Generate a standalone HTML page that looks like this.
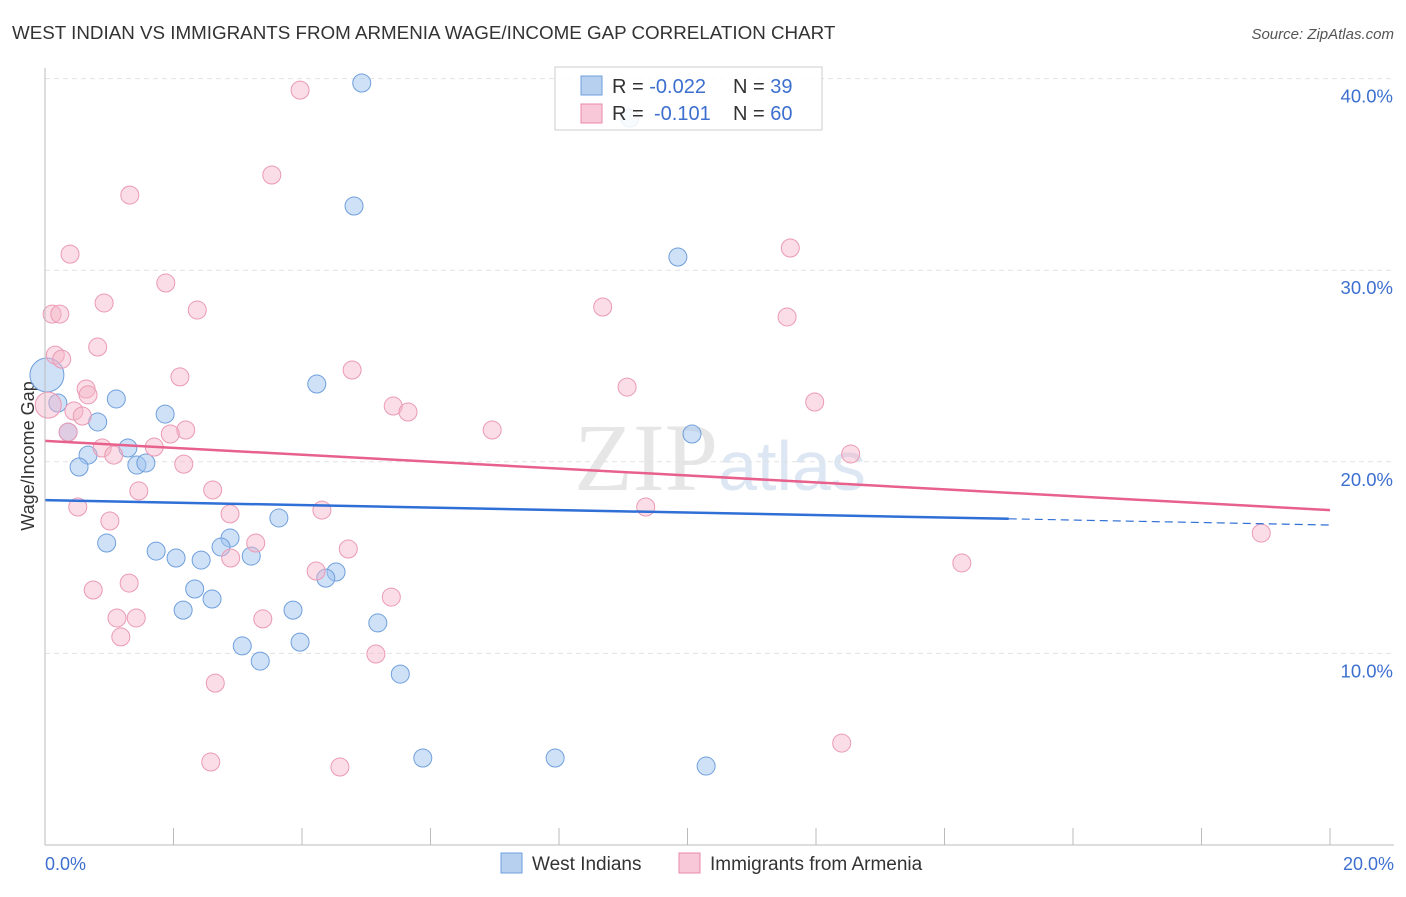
<!DOCTYPE html>
<html><head><meta charset="utf-8"><style>
body{margin:0;background:#fff;font-family:"Liberation Sans",sans-serif;}
</style></head><body>
<svg id="chart" width="1406" height="892" xmlns="http://www.w3.org/2000/svg">
<text x="12" y="39" font-size="18.8" fill="#333">WEST INDIAN VS IMMIGRANTS FROM ARMENIA WAGE/INCOME GAP CORRELATION CHART</text>
<text x="1394" y="39" font-size="15" fill="#555" font-style="italic" text-anchor="end">Source: ZipAtlas.com</text>
<text x="720" y="490" font-size="96" fill="#e6e6e6" text-anchor="middle" font-family="Liberation Serif,serif">ZIP<tspan fill="#dde6f3" font-family="Liberation Sans,sans-serif" font-size="70">atlas</tspan></text>
<text transform="translate(34,456) rotate(-90)" font-size="18" fill="#333" text-anchor="middle">Wage/Income Gap</text>
<g id="grid"></g><g id="pts"></g><g id="lines"></g>
<line x1="45" y1="68" x2="45" y2="845" stroke="#bbb"/>
<line x1="45" y1="845" x2="1394" y2="845" stroke="#bbb"/>
<text x="45" y="870" font-size="18" fill="#3d6fcf">0.0%</text>
<text x="1394" y="870" font-size="18" fill="#3d6fcf" text-anchor="end">20.0%</text>
<g>
<rect x="555" y="67" width="267" height="63" fill="#fff" fill-opacity="0.85" stroke="#ccc"/>
<rect x="581" y="76" width="21" height="19" fill="#b7d0f0" stroke="#6f9fdc"/>
<rect x="581" y="104" width="21" height="19" fill="#f8c8d8" stroke="#e88aa8"/>
<text x="612" y="93" font-size="20" fill="#333">R = <tspan fill="#3d6fcf">-0.022</tspan><tspan x="733">N = </tspan><tspan fill="#3d6fcf">39</tspan></text>
<text x="612" y="120" font-size="20" fill="#333">R = <tspan x="654" fill="#3d6fcf">-0.101</tspan><tspan x="733">N = </tspan><tspan fill="#3d6fcf">60</tspan></text>
</g>
<g>
<rect x="501" y="853" width="21" height="20" fill="#b7d0f0" stroke="#6f9fdc"/>
<text x="532" y="870" font-size="19" fill="#333">West Indians</text>
<rect x="679" y="853" width="21" height="20" fill="#f8c8d8" stroke="#e88aa8"/>
<text x="710" y="870" font-size="19" fill="#333">Immigrants from Armenia</text>
</g>
</svg>
<script>
const yTicks=[10,20,30,40];
const xTicks=[0,2,4,6,8,10,12,14,16,18,20];
const blueX=[4.93,4.81,9.85,9.10,4.23,0.03,0.20,1.11,1.87,0.82,0.36,1.29,0.67,0.53,1.43,1.57,10.07,3.64,0.96,2.88,2.74,1.73,2.04,2.43,3.21,4.53,4.37,2.33,2.60,2.15,3.86,5.18,3.07,3.97,3.35,5.53,5.88,7.94,10.29];
const blueY=[39.77,33.35,30.69,37.94,24.06,24.53,23.07,23.28,22.49,22.08,21.55,20.72,20.35,19.73,19.83,19.94,21.45,17.07,15.76,16.02,15.55,15.34,14.98,14.87,15.08,14.25,13.93,13.36,12.84,12.26,12.26,11.59,10.39,10.59,9.60,8.92,4.54,4.54,4.12];
const pinkX=[3.97,3.53,1.32,0.39,1.88,0.92,2.37,0.11,0.23,0.82,0.16,0.26,2.10,4.78,0.64,0.67,5.42,5.65,0.45,0.58,0.36,2.19,1.95,0.89,1.70,1.07,2.16,6.96,8.68,9.06,11.60,11.55,11.98,12.54,9.35,2.61,1.46,0.51,1.01,2.88,4.31,3.28,2.89,4.72,4.22,1.31,0.75,5.39,1.12,1.42,3.39,1.18,5.15,2.65,2.58,4.59,12.40,14.27,18.93,0.05];
const pinkY=[39.40,34.97,33.92,30.84,29.33,28.29,27.92,27.71,27.71,25.99,25.57,25.36,24.43,24.79,23.80,23.49,22.91,22.60,22.65,22.39,21.55,21.66,21.45,20.72,20.77,20.35,19.88,21.66,28.08,23.90,31.16,27.56,23.12,20.41,17.64,18.53,18.48,17.64,16.91,17.28,17.48,15.76,14.98,15.45,14.30,13.67,13.31,12.94,11.85,11.85,11.80,10.86,9.97,8.45,4.33,4.07,5.32,14.72,16.28,22.96];
const blueTrend=[18.0,16.7];
const pinkTrend=[21.09,17.48];
const NS="http://www.w3.org/2000/svg";
const sx=v=>45+v*(1285/20);
const sy=v=>845-v*19.16;
function mk(t,a,p){const e=document.createElementNS(NS,t);for(const k in a)e.setAttribute(k,a[k]);document.getElementById(p).appendChild(e);return e;}
yTicks.forEach(t=>{
 const l=mk('line',{x1:45,x2:1394,y1:sy(t),y2:sy(t),stroke:'#e2e2e2','stroke-dasharray':'5,4'},'grid');
 
 
 const tx=mk('text',{x:1393,y:sy(t)+24,'font-size':18.5,fill:'#3d6fcf','text-anchor':'end'},'grid');
 tx.textContent=t.toFixed(1)+'%';
 
 
});
xTicks.forEach(t=>{
 const l=mk('line',{x1:sx(t),x2:sx(t),y1:828,y2:845,stroke:'#bbb'},'grid');
 
 
});
blueX.forEach((x,i)=>{
 const r=i==5?17:9;
 const c=mk('circle',{cx:sx(x),cy:sy(blueY[i]),r:r,fill:'rgba(160,195,240,0.5)',stroke:'#6f9fdc','stroke-width':1},'pts');
 
 
});
pinkX.forEach((x,i)=>{
 const r=i==59?13:9;
 const c=mk('circle',{cx:sx(x),cy:sy(pinkY[i]),r:r,fill:'rgba(245,180,200,0.45)',stroke:'#eb9ab4','stroke-width':1},'pts');
 
 
});
const bAt=x=>blueTrend[0]+(blueTrend[1]-blueTrend[0])*x/20;
let l1=mk('line',{x1:sx(0),y1:sy(bAt(0)),x2:sx(15),y2:sy(bAt(15)),stroke:'#2f6fd6','stroke-width':2.5},'lines');


let l2=mk('line',{x1:sx(15),y1:sy(bAt(15)),x2:sx(20),y2:sy(bAt(20)),stroke:'#2f6fd6','stroke-width':1.2,'stroke-dasharray':'8,5'},'lines');


let l3=mk('line',{x1:sx(0),y1:sy(pinkTrend[0]),x2:sx(20),y2:sy(pinkTrend[1]),stroke:'#e8608c','stroke-width':2.5},'lines');


</script>
</body></html>
